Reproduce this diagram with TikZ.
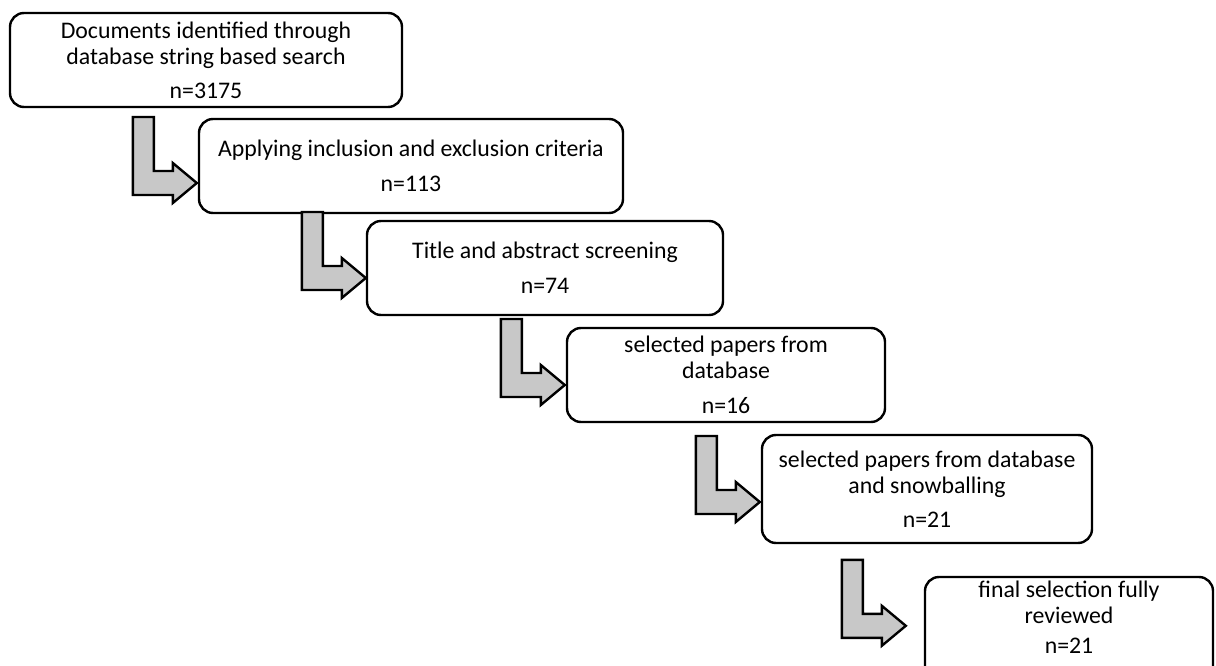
\documentclass[tikz,border=0pt]{standalone}
\usepackage{fontspec}
\setmainfont{Carlito}
\usetikzlibrary{calc}
\definecolor{arrowgray}{RGB}{200,200,200}
\tikzset{
  stage/.style={draw, line width=2.4pt, rounded corners=14pt, fill=white,
    align=center, inner sep=0pt, font=\fontsize{23.8}{26}\selectfont},
  larrow/.pic={\draw[line width=2.4pt, fill=arrowgray]
    (-64,-66) -- (-43,-66) -- (-43,-12) -- (-24,-12) -- (-24,-20) -- (0,0)
    -- (-24,20) -- (-24,12) -- (-64,12) -- cycle;}
}
\begin{document}
\begin{tikzpicture}[x=1pt,y=-1pt]
\useasboundingbox (0,0) rectangle (1216,666);
\clip (0,0) rectangle (1216,666);
% stages
\node[stage, minimum width=392pt, minimum height=94pt] (b1) at (206,60)
  {Documents identified through\\database string based search\\[8pt]n=3175};
\node[stage, minimum width=424pt, minimum height=94pt] (b2) at (411,166)
  {Applying inclusion and exclusion criteria\\[9pt]n=113};
\node[stage, minimum width=356pt, minimum height=94pt] (b3) at (545,268)
  {Title and abstract screening\\[9pt]n=74};
\node[stage, minimum width=318pt, minimum height=94pt] (b4) at (726,375)
  {selected papers from\\database\\[9pt]n=16};
\node[stage, minimum width=330pt, minimum height=108pt] (b5) at (927,489)
  {selected papers from database\\and snowballing\\[8pt]n=21};
\node[stage, minimum width=288pt, minimum height=108pt] (b6) at (1069,631) {};
\node[stage, draw=none, fill=none] (t6) at (1069,617)
  {final selection fully\\reviewed\\[4pt]n=21};
% connectors
\pic at ($(b2.west)+(-1,17)$) {larrow};
\pic at ($(b3.west)+(0,10)$) {larrow};
\pic at ($(b4.west)+(-1,10)$) {larrow};
\pic at ($(b5.west)+(-1,13)$) {larrow};
\pic at ($(b6.north west)+(-18,50)$) {larrow};
\end{tikzpicture}
\end{document}
